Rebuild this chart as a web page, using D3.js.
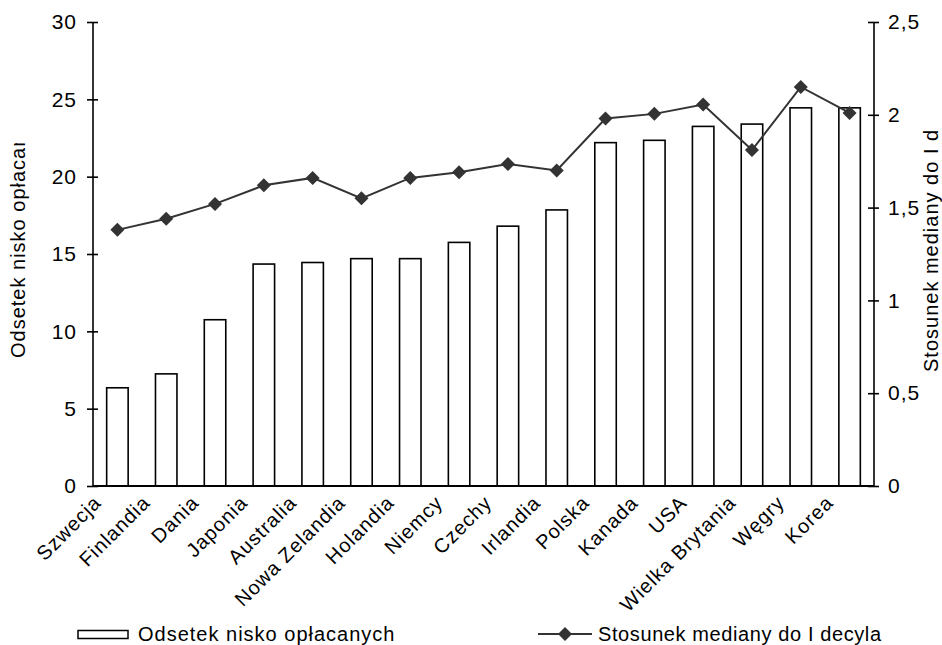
<!DOCTYPE html>
<html>
<head>
<meta charset="utf-8">
<script src="https://d3js.org/d3.v7.min.js"></script>
<style>
  body { margin: 0; background: #fff; }
  svg { display: block; }
  text { font-family: "Liberation Sans", Arial, sans-serif; fill: #000; }
</style>
</head>
<body>
<script>
  // data
  var countries = ["Szwecja", "Finlandia", "Dania", "Japonia", "Australia", "Nowa Zelandia",
                   "Holandia", "Niemcy", "Czechy", "Irlandia", "Polska", "Kanada", "USA",
                   "Wielka Brytania", "Węgry", "Korea"];
  var lowPaidShare = [6.35, 7.25, 10.75, 14.35, 14.45, 14.7, 14.7, 15.75, 16.8, 17.85,
                      22.2, 22.35, 23.25, 23.4, 24.45, 24.45];
  var medianRatio = [1.38, 1.44, 1.52, 1.62, 1.66, 1.55, 1.66, 1.69, 1.735, 1.70,
                     1.98, 2.005, 2.055, 1.81, 2.15, 2.01];
  var leftTicks = [0, 5, 10, 15, 20, 25, 30];
  var rightTicks = [0, 0.5, 1, 1.5, 2, 2.5];

  var W = 942, H = 645;
  var plotL = 93, plotR = 874, plotT = 22, plotB = 486;
  var fs = 20;

  var svg = d3.select("body").append("svg")
      .attr("width", W).attr("height", H);

  var defs = svg.append("defs");
  defs.append("clipPath").attr("id", "clipL")
    .append("rect").attr("x", 0).attr("y", 143).attr("width", 60).attr("height", 400);
  defs.append("clipPath").attr("id", "clipR")
    .append("rect").attr("x", 900).attr("y", 130).attr("width", 42).attr("height", 400);

  var x = d3.scaleBand().domain(countries).range([plotL, plotR]).padding(0);
  var yL = d3.scaleLinear().domain([0, 30]).range([plotB, plotT]);
  var yR = d3.scaleLinear().domain([0, 2.5]).range([plotB, plotT]);
  var barW = x.step() * 0.44;
  function cx(d) { return x(d) + x.bandwidth() / 2; }

  /* bars */
  svg.append("g").selectAll("rect")
    .data(countries)
    .enter().append("rect")
      .attr("x", function(d) { return cx(d) - barW / 2; })
      .attr("y", function(d, i) { return yL(lowPaidShare[i]); })
      .attr("width", barW)
      .attr("height", function(d, i) { return plotB - yL(lowPaidShare[i]); })
      .attr("fill", "#fff")
      .attr("stroke", "#000")
      .attr("stroke-width", 1.6);

  /* axes */
  var axL = svg.append("g").attr("transform", "translate(" + plotL + ",0)")
      .call(d3.axisLeft(yL).tickValues(leftTicks).tickSize(6).tickPadding(10));
  var axR = svg.append("g").attr("transform", "translate(" + plotR + ",0)")
      .call(d3.axisRight(yR).tickValues(rightTicks).tickSize(5).tickPadding(9)
        .tickFormat(function(d) { return String(d).replace(".", ","); }));
  [axL, axR].forEach(function(ax) {
    ax.select(".domain").attr("stroke", "#000").attr("stroke-width", 1.6)
      .attr("d", "M0," + plotT + "V" + plotB);
    ax.selectAll(".tick line").attr("stroke", "#000").attr("stroke-width", 1.6);
    ax.selectAll("text").style("font-size", "21px").style("letter-spacing", "1px")
      .attr("fill", "#000");
  });
  // ticks cross the axis line
  axL.selectAll(".tick line").attr("x1", 5).attr("x2", -6);
  axR.selectAll(".tick line").attr("x1", -6).attr("x2", 5);

  svg.append("line")
    .attr("x1", plotL).attr("x2", plotR).attr("y1", plotB).attr("y2", plotB)
    .attr("stroke", "#000").attr("stroke-width", 1.8);

  /* category labels */
  svg.append("g").selectAll("text")
    .data(countries)
    .enter().append("text")
      .attr("transform", function(d) {
        return "translate(" + (cx(d) - 25) + "," + 494 + ") rotate(-45)";
      })
      .attr("dy", "0.71em")
      .attr("text-anchor", "end")
      .style("font-size", fs + "px")
      .style("letter-spacing", "1px")
      .text(function(d) { return d; });

  /* line series */
  var line = d3.line()
    .x(function(d, i) { return cx(countries[i]); })
    .y(function(d) { return yR(d); });
  svg.append("path")
    .datum(medianRatio)
    .attr("d", line)
    .attr("fill", "none")
    .attr("stroke", "#333")
    .attr("stroke-width", 2);

  var diamond = d3.symbol().type(d3.symbolDiamond2).size(125);
  svg.append("g").selectAll("path")
    .data(medianRatio)
    .enter().append("path")
      .attr("d", diamond)
      .attr("transform", function(d, i) {
        return "translate(" + cx(countries[i]) + "," + yR(d) + ")";
      })
      .attr("fill", "#333");

  /* axis titles (cut off like in the original) */
  svg.append("g").attr("clip-path", "url(#clipL)")
    .append("text")
    .attr("transform", "translate(25,358) rotate(-90)")
    .style("font-size", fs + "px")
    .style("letter-spacing", "1px")
    .text("Odsetek nisko opłacanych");
  svg.append("g").attr("clip-path", "url(#clipR)")
    .append("text")
    .attr("transform", "translate(938,372) rotate(-90)")
    .style("font-size", fs + "px")
    .style("letter-spacing", "1px")
    .text("Stosunek mediany do I decyla");

  /* legend */
  var lg = svg.append("g");
  lg.append("rect").attr("x", 78).attr("y", 630.5).attr("width", 50).attr("height", 8)
    .attr("fill", "#fff").attr("stroke", "#000").attr("stroke-width", 1.5);
  lg.append("text").attr("x", 138).attr("y", 641)
    .style("font-size", fs + "px").style("letter-spacing", "1px")
    .text("Odsetek nisko opłacanych");
  lg.append("line").attr("x1", 538).attr("x2", 592).attr("y1", 634).attr("y2", 634)
    .attr("stroke", "#333").attr("stroke-width", 2);
  lg.append("path").attr("d", diamond).attr("transform", "translate(565,634)").attr("fill", "#333");
  lg.append("text").attr("x", 598).attr("y", 641)
    .style("font-size", fs + "px").style("letter-spacing", "0.6px")
    .text("Stosunek mediany do I decyla");
</script>
</body>
</html>
